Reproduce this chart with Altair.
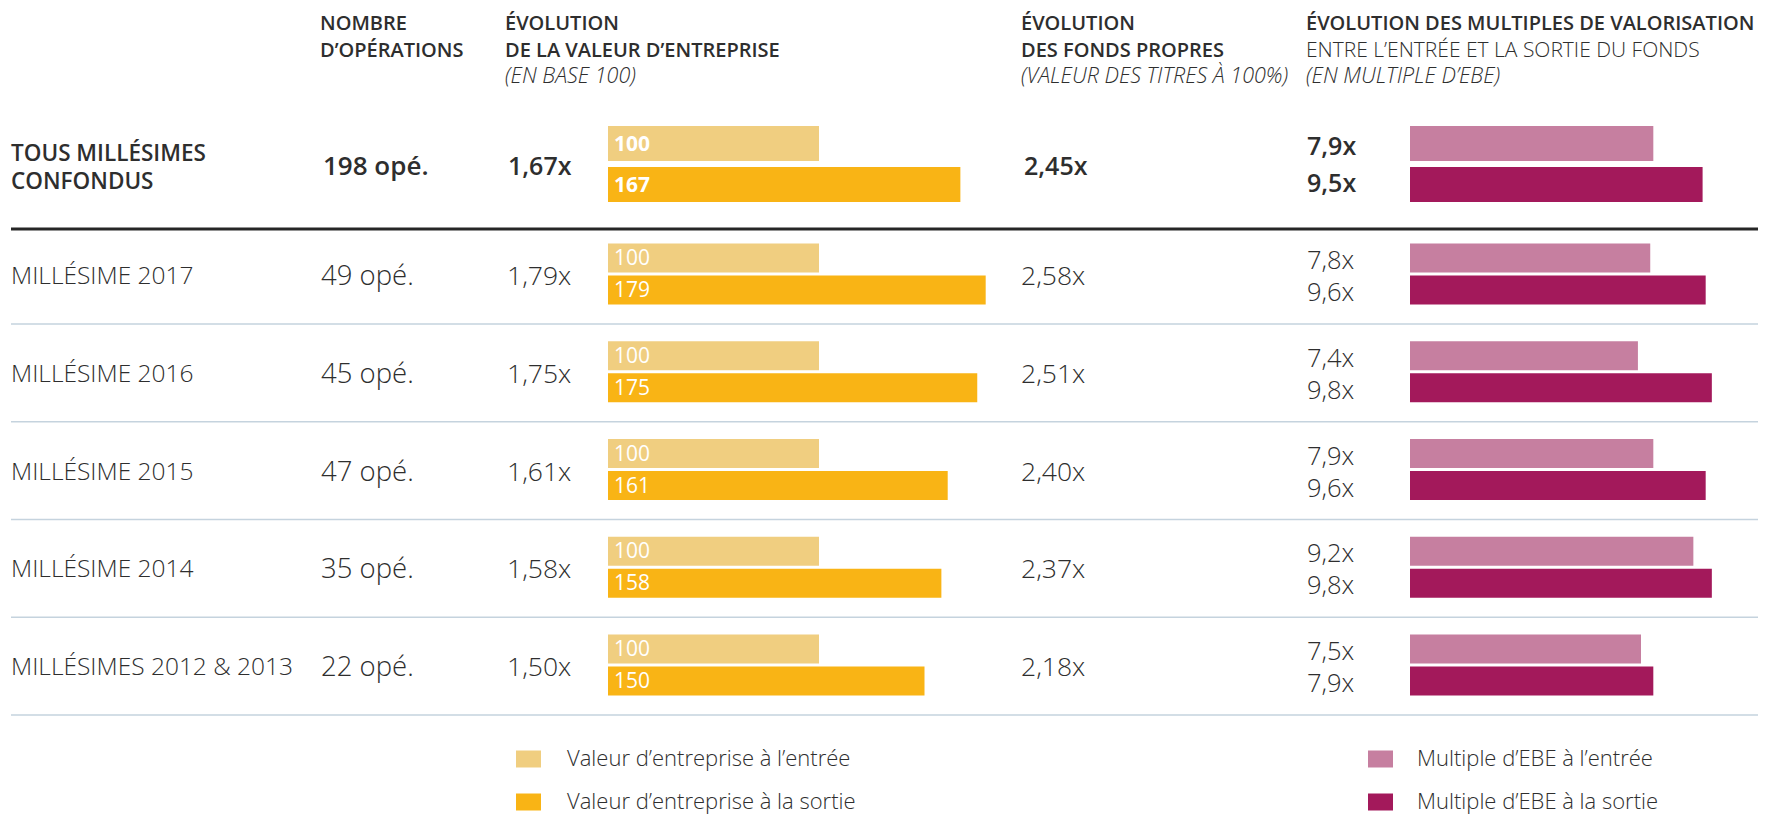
import altair as alt
import pandas as pd

# ---------------- data ----------------
row_labels = ["TOUS MILLÉSIMES\nCONFONDUS", "MILLÉSIME 2017", "MILLÉSIME 2016",
              "MILLÉSIME 2015", "MILLÉSIME 2014", "MILLÉSIMES 2012 & 2013"]
operations = [198, 49, 45, 47, 35, 22]
ev_entry = [100, 100, 100, 100, 100, 100]
ev_exit = [167, 179, 175, 161, 158, 150]
equity_multiple = [2.45, 2.58, 2.51, 2.40, 2.37, 2.18]
ebe_entry = [7.9, 7.8, 7.4, 7.9, 9.2, 7.5]
ebe_exit = [9.5, 9.6, 9.8, 9.6, 9.8, 7.9]

series_names = ["Valeur d’entreprise à l’entrée", "Valeur d’entreprise à la sortie",
                "Multiple d’EBE à l’entrée", "Multiple d’EBE à la sortie"]
series_colors = ["#F0CE80", "#F9B415", "#C67FA0", "#A3195B"]

header_bold = [["NOMBRE", "D’OPÉRATIONS"],
               ["ÉVOLUTION", "DE LA VALEUR D’ENTREPRISE"],
               ["ÉVOLUTION", "DES FONDS PROPRES"],
               ["ÉVOLUTION DES MULTIPLES DE VALORISATION"]]
header_light = [[], [], [], ["ENTRE L’ENTRÉE ET LA SORTIE DU FONDS"]]
header_italic = ["", "(EN BASE 100)", "(VALEUR DES TITRES À 100%)", "(EN MULTIPLE D’EBE)"]

# ---------------- layout / style ----------------
W, H = 1750, 806
FONT = "Open Sans"
TXT = "#2E2E2E"
HEADER_X = [312, 497, 1013, 1298]
HEADER_Y = [16, 43, 69]
LEG_SW_X = [508, 1360]
LEG_TX_X = [559, 1409]
LEG_Y = [751, 794]

Y_SCALE = alt.Scale(domain=[0, 1, 5], range=[156, 266, 657], nice=False, zero=False, padding=0)
EV_SCALE = alt.Scale(domain=[0, 200], range=[600, 1022], nice=False, zero=True)
EBE_SCALE = alt.Scale(domain=[0, 10], range=[1402, 1710], nice=False, zero=True)
COLOR_SCALE = alt.Scale(domain=series_names, range=series_colors)


def fr(v, d):
    return f"{v:.{d}f}".replace(".", ",")


wide = pd.DataFrame({
    "idx": list(range(len(row_labels))),
    "first": [i == 0 for i in range(len(row_labels))],
    "label": row_labels,
    "ops": [f"{n} opé." for n in operations],
    "evm": [fr(b / a, 2) + "x" for a, b in zip(ev_entry, ev_exit)],
    "fp": [fr(v, 2) + "x" for v in equity_multiple],
})

recs = []
for i in range(len(row_labels)):
    f = i == 0
    recs.append(dict(idx=i, first=f, kind="ev", pos="entry", series=series_names[0],
                     value=ev_entry[i], text=str(ev_entry[i])))
    recs.append(dict(idx=i, first=f, kind="ev", pos="exit", series=series_names[1],
                     value=ev_exit[i], text=str(ev_exit[i])))
    recs.append(dict(idx=i, first=f, kind="ebe", pos="entry", series=series_names[2],
                     value=ebe_entry[i], text=fr(ebe_entry[i], 1) + "x"))
    recs.append(dict(idx=i, first=f, kind="ebe", pos="exit", series=series_names[3],
                     value=ebe_exit[i], text=fr(ebe_exit[i], 1) + "x"))
long = pd.DataFrame(recs)

Y = alt.Y("idx:Q", scale=Y_SCALE, axis=None)
layers = []

# separators
layers.append(
    alt.Chart(wide[wide["first"]]).mark_rule(color="#262626", strokeWidth=3, yOffset=65)
    .encode(y=Y, x=alt.value(3), x2=alt.value(W))
)
layers.append(
    alt.Chart(wide[~wide["first"]]).mark_rule(color="#C5D3DE", strokeWidth=1.5, yOffset=50)
    .encode(y=Y, x=alt.value(3), x2=alt.value(W))
)

# bars + bar labels
for kind in ["ev", "ebe"]:
    xs = EV_SCALE if kind == "ev" else EBE_SCALE
    for pos in ["entry", "exit"]:
        for first in [True, False]:
            d = long[(long["kind"] == kind) & (long["pos"] == pos) & (long["first"] == first)]
            size = 35 if first else 29
            off = (20.5 if first else 16) * (-1 if pos == "entry" else 1)
            layers.append(
                alt.Chart(d).mark_bar(orient="horizontal", size=size, yOffset=off)
                .encode(x=alt.X("value:Q", scale=xs, axis=None), y=Y,
                        color=alt.Color("series:N", scale=COLOR_SCALE, legend=None))
            )
            if kind == "ev":
                layers.append(
                    alt.Chart(d).mark_text(align="left", baseline="middle", font=FONT,
                                           fontSize=21, fontWeight=700 if first else 400,
                                           color="white", yOffset=off + 1)
                    .encode(x=alt.value(606), y=Y, text="text:N")
                )
            else:
                if first:
                    tdy = 3 if pos == "entry" else -1
                else:
                    tdy = 3
                layers.append(
                    alt.Chart(d).mark_text(align="left", baseline="middle", font=FONT,
                                           fontSize=25 if first else 25.5,
                                           fontWeight=600 if first else 300,
                                           color=TXT, yOffset=off + tdy)
                    .encode(x=alt.value(1299), y=Y, text="text:N")
                )

# text columns
def col_text(field, x, first, size, weight, dy, **kw):
    d = wide[wide["first"] == first]
    return (alt.Chart(d).mark_text(align="left", baseline="middle", font=FONT, fontSize=size,
                                   fontWeight=weight, color=TXT, dy=dy, **kw)
            .encode(x=alt.value(x), y=Y, text=f"{field}:N"))

layers.append(col_text("label", 3, True, 22.5, 600, -10, lineBreak="\n", lineHeight=28))
layers.append(col_text("label", 3, False, 24.5, 300, 3))
layers.append(col_text("ops", 315, True, 26, 600, 3))
layers.append(col_text("ops", 313, False, 27.5, 300, 3))
layers.append(col_text("evm", 500, True, 25, 600, 3))
layers.append(col_text("evm", 499, False, 26.5, 300, 3))
layers.append(col_text("fp", 1016, True, 25, 600, 3))
layers.append(col_text("fp", 1013, False, 26.5, 300, 3))

# headers
one = pd.DataFrame({"k": [0]})
for c in range(4):
    line = 0
    for t in header_bold[c]:
        layers.append(alt.Chart(one).mark_text(text=t, align="left", baseline="middle", font=FONT,
                                               fontSize=20, fontWeight=600, color=TXT)
                      .encode(x=alt.value(HEADER_X[c]), y=alt.value(HEADER_Y[line])))
        line += 1
    for t in header_light[c]:
        layers.append(alt.Chart(one).mark_text(text=t, align="left", baseline="middle", font=FONT,
                                               fontSize=21, fontWeight=300, color=TXT)
                      .encode(x=alt.value(HEADER_X[c]), y=alt.value(HEADER_Y[line])))
        line += 1
    if header_italic[c]:
        layers.append(alt.Chart(one).mark_text(text=header_italic[c], align="left", baseline="middle",
                                               font=FONT, fontSize=21.5, fontWeight=300,
                                               fontStyle="italic", color=TXT)
                      .encode(x=alt.value(HEADER_X[c]), y=alt.value(HEADER_Y[2])))

# legend (2 x 2)
leg_order = [[series_names[0], series_names[1]], [series_names[2], series_names[3]]]
for c in range(2):
    for r in range(2):
        name = leg_order[c][r]
        d = pd.DataFrame({"series": [name]})
        layers.append(alt.Chart(d).mark_rect()
                      .encode(x=alt.value(LEG_SW_X[c]), x2=alt.value(LEG_SW_X[c] + 25),
                              y=alt.value(LEG_Y[r] - 8.5), y2=alt.value(LEG_Y[r] + 8.5),
                              color=alt.Color("series:N", scale=COLOR_SCALE, legend=None)))
        layers.append(alt.Chart(d).mark_text(align="left", baseline="middle", font=FONT,
                                             fontSize=22, fontWeight=300, color=TXT, dy=0)
                      .encode(x=alt.value(LEG_TX_X[c]), y=alt.value(LEG_Y[r]), text="series:N"))

chart = (alt.layer(*layers)
         .resolve_scale(x="independent")
         .properties(width=W, height=H, autosize=alt.AutoSizeParams(type="none"), padding=0)
         .configure_view(stroke=None))

chart.save("out.html", embed_options={"renderer": "svg", "actions": False})
